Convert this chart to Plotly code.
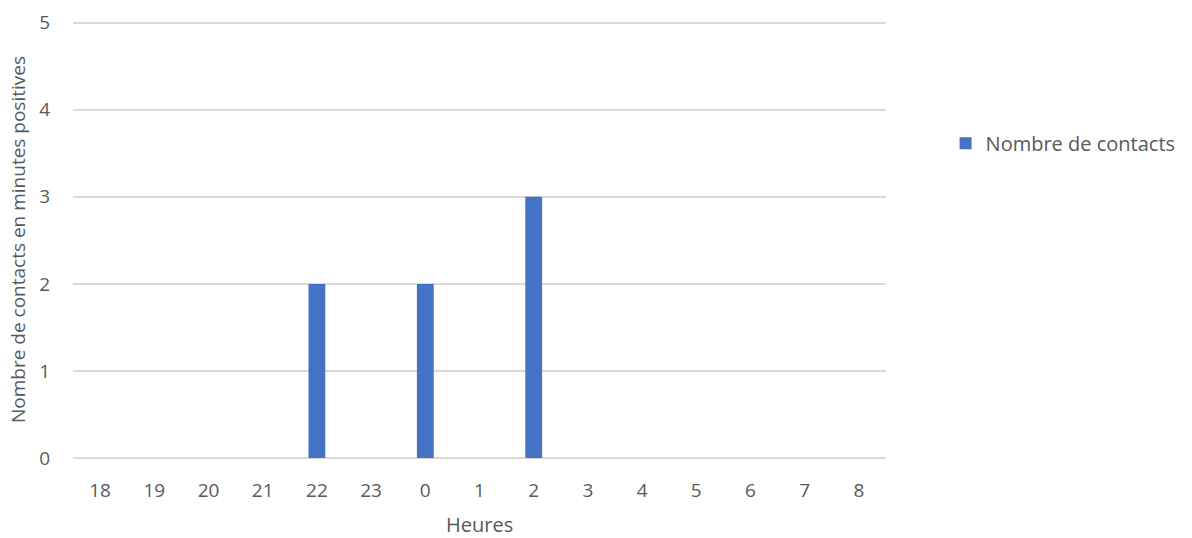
import plotly.graph_objects as go

heures = ["18", "19", "20", "21", "22", "23", "0", "1", "2", "3", "4", "5", "6", "7", "8"]
contacts = [0, 0, 0, 0, 2, 0, 2, 0, 3, 0, 0, 0, 0, 0, 0]

TEXT = "#595959"
GRID = "#d9d9d9"
FONT = "Open Sans"

fig = go.Figure()
fig.add_trace(go.Bar(
    x=heures,
    y=contacts,
    name="Nombre de contacts",
    marker=dict(color="#4472c4", line=dict(width=0)),
    width=0.31,
    showlegend=True,
))

fig.update_layout(
    width=1192,
    height=538,
    margin=dict(l=73, r=305, t=21, b=80),
    paper_bgcolor="white",
    plot_bgcolor="white",
    font=dict(family=FONT, color=TEXT, size=19),
    showlegend=True,
    legend=dict(
        x=1.072, y=0.72, xanchor="left", yanchor="middle",
        font=dict(size=20, color=TEXT),
        itemwidth=30,
        bgcolor="rgba(0,0,0,0)",
    ),
    xaxis=dict(
        type="category",
        automargin=False,
        showgrid=False,
        showline=False,
        ticks="outside",
        ticklen=15,
        tickcolor="rgba(0,0,0,0)",
        tickfont=dict(size=19, color=TEXT),
    ),
    yaxis=dict(
        range=[0, 5.02],
        tickvals=[0, 1, 2, 3, 4, 5],
        automargin=False,
        showgrid=True,
        gridcolor=GRID,
        gridwidth=2,
        zeroline=True,
        zerolinecolor=GRID,
        zerolinewidth=2,
        showline=False,
        ticks="outside",
        ticklen=18,
        tickcolor="rgba(0,0,0,0)",
        tickfont=dict(size=19, color=TEXT),
        title=dict(text="Nombre de contacts en minutes positives",
                   font=dict(size=19, color=TEXT), standoff=8),
    ),
)

# x-axis title placed just above the bottom edge
fig.add_annotation(
    text="Heures", xref="paper", yref="paper", x=0.5, y=-0.152,
    xanchor="center", yanchor="middle", showarrow=False, borderpad=0,
    font=dict(size=20, color=TEXT, family=FONT),
)

fig.write_html("out.html")
